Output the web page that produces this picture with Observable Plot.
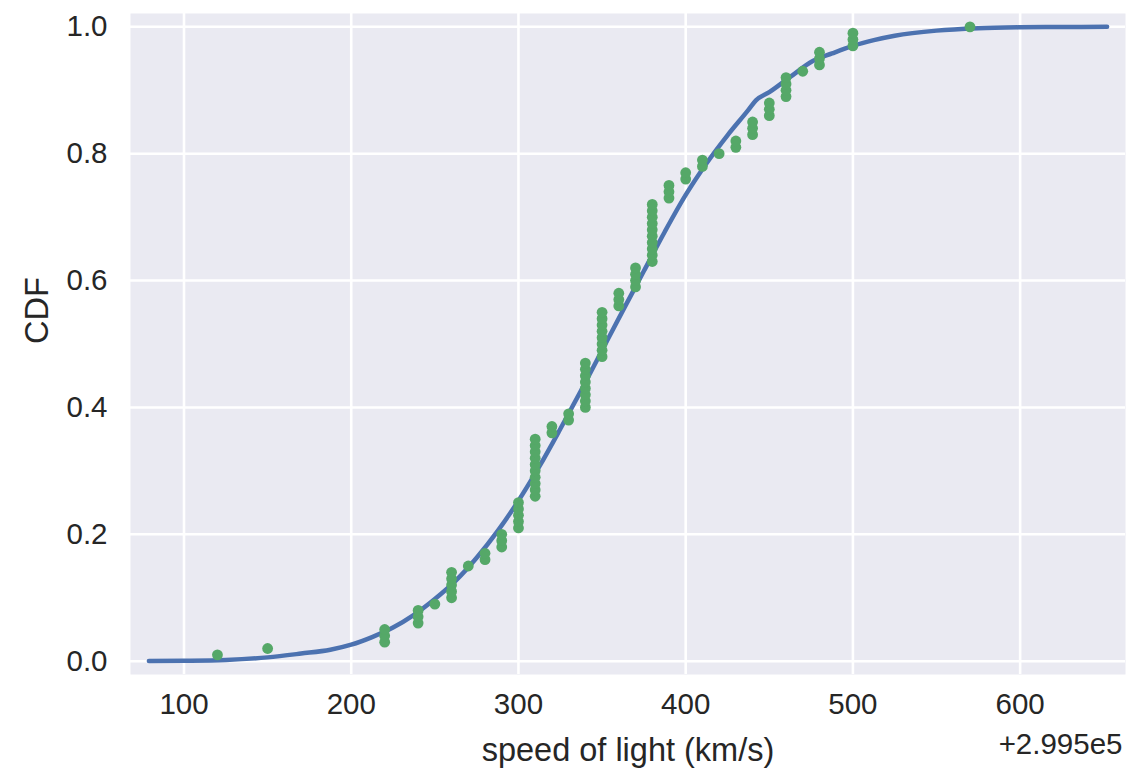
<!DOCTYPE html>
<html>
<head>
<meta charset="utf-8">
<script src="https://cdn.jsdelivr.net/npm/d3@7"></script>
<script src="https://cdn.jsdelivr.net/npm/@observablehq/plot@0.6"></script>
<style>
  html, body { margin: 0; padding: 0; background: #ffffff; }
  #chart { width: 1132px; height: 772px; }
</style>
</head>
<body>
<div id="chart"></div>
<script>
// Michelson speed-of-light measurements, shown as offset from 2.995e5 km/s
const speeds = [
  350, 240, 400, 570, 430, 350, 450, 480, 480, 380, 500, 480, 430, 150, 260, 310, 500, 500, 460, 460,
  460, 440, 460, 440, 380, 300, 350, 380, 400, 340, 330, 290, 310, 380, 380, 330, 300, 290, 260, 300,
  380, 380, 380, 360, 220, 220, 120, 360, 470, 450, 380, 410, 350, 370, 340, 340, 350, 340, 340, 340,
  390, 310, 310, 320, 300, 270, 260, 240, 250, 260, 410, 420, 390, 360, 380, 220, 340, 350, 350, 280,
  390, 340, 280, 310, 260, 310, 290, 310, 320, 350, 370, 370, 310, 240, 310, 440, 450, 300, 310, 370
];

// Theoretical CDF curve
const curveX = [79, 100, 125, 150, 170, 187.5, 200, 212.5, 225, 237.5, 250, 262.5, 275, 287.5, 300, 312.5, 325, 337.5, 350, 362.5, 375, 387.5, 400, 412.5, 425, 437.5, 442, 450, 462.5, 476, 487.5, 500, 512.5, 525, 550, 575, 600, 625, 652];
const curveY = [0.0003, 0.0007, 0.002, 0.006, 0.012, 0.018, 0.026, 0.038, 0.053, 0.073, 0.098, 0.127, 0.163, 0.205, 0.253, 0.307, 0.366, 0.427, 0.490, 0.553, 0.615, 0.677, 0.735, 0.785, 0.829, 0.869, 0.884, 0.897, 0.921, 0.946, 0.958, 0.970, 0.979, 0.986, 0.994, 0.9977, 0.9992, 0.9997, 1.0];

const xTicks = [100, 200, 300, 400, 500, 600];
const yTicks = [0.0, 0.2, 0.4, 0.6, 0.8, 1.0];

const sorted = speeds.slice().sort((a, b) => a - b);
const ecdf = sorted.map((v, i) => ({x: v, y: (i + 1) / sorted.length}));
const curve = curveX.map((x, i) => ({x, y: curveY[i]}));

const font = "'Liberation Sans', Arial, 'DejaVu Sans', sans-serif";
const textColor = "#262626";

const chart = Plot.plot({
  width: 1132,
  height: 772,
  marginLeft: 130,
  marginRight: 7,
  marginTop: 13,
  marginBottom: 98,
  style: {fontFamily: font, fontSize: "29.5px", color: textColor, background: "#ffffff"},
  x: {domain: [68, 663], label: null},
  y: {domain: [-0.021, 1.021], label: null},
  marks: [
    Plot.frame({fill: "#EAEAF2", stroke: null}),
    Plot.gridX(xTicks, {stroke: "#ffffff", strokeOpacity: 1, strokeWidth: 2.6}),
    Plot.gridY(yTicks, {stroke: "#ffffff", strokeOpacity: 1, strokeWidth: 2.6}),
    Plot.axisX(xTicks, {tickSize: 0, tickPadding: 19, fill: textColor, label: null, fontSize: 29.5}),
    Plot.axisY(yTicks, {tickSize: 0, tickPadding: 23, fill: textColor, label: null, fontSize: 29.5, tickFormat: d3.format(".1f")}),
    Plot.line(curve, {x: "x", y: "y", stroke: "#4C72B0", strokeWidth: 4.5, curve: "monotone-x"}),
    Plot.dot(ecdf, {x: "x", y: "y", r: 5.4, fill: "#55A868", stroke: null}),
    Plot.text(["speed of light (km/s)"], {frameAnchor: "bottom", text: d => d, lineAnchor: "middle", dy: 76, fill: textColor, fontSize: 32.5}),
    Plot.text(["+2.995e5"], {frameAnchor: "bottom-right", text: d => d, textAnchor: "end", lineAnchor: "middle", dx: -3, dy: 70, fill: textColor, fontSize: 29.5}),
    Plot.text(["CDF"], {frameAnchor: "left", text: d => d, rotate: -90, lineAnchor: "middle", dx: -93, fill: textColor, fontSize: 32.5})
  ]
});
document.getElementById("chart").appendChild(chart);
</script>
</body>
</html>
